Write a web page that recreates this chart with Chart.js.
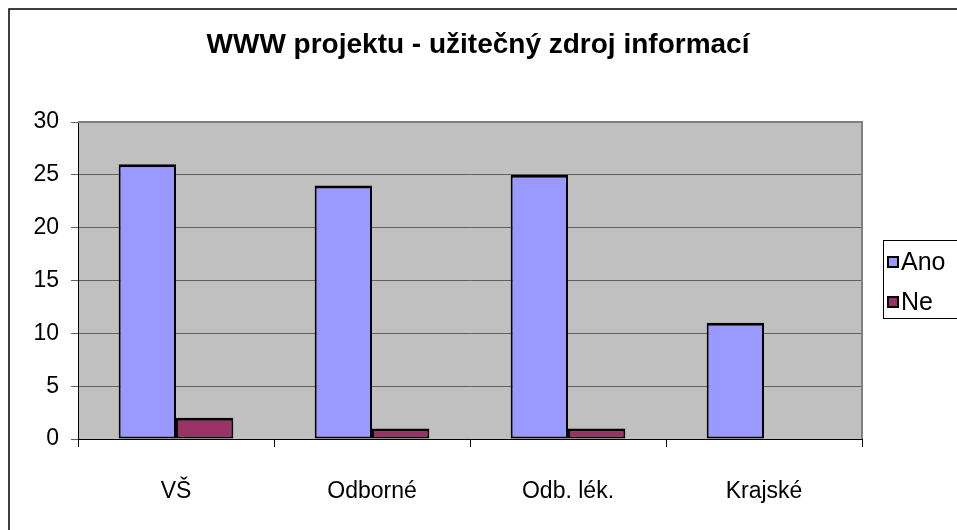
<!DOCTYPE html>
<html>
<head>
<meta charset="utf-8">
<script src="https://cdn.jsdelivr.net/npm/chart.js@4/dist/chart.umd.min.js"></script>
<style>
html,body{margin:0;padding:0;background:#fff;}
#wrap{width:957px;height:530px;position:relative;}
</style>
</head>
<body>
<div id="wrap"><canvas id="c" width="957" height="530"></canvas></div>
<script>
const categories = ["VŠ", "Odborné", "Odb. lék.", "Krajské"];
const anoValues = [26, 24, 25, 11];
const neValues = [2, 1, 1, 0];
const seriesNames = ["Ano", "Ne"];
const yTicks = [0, 5, 10, 15, 20, 25, 30];
const chartTitle = "WWW projektu - užitečný zdroj informací";

const FONT = "'Liberation Sans', Arial, sans-serif";

const decor = {
  id: 'decor',
  beforeDraw(chart) {
    const {ctx, chartArea: a} = chart;
    ctx.save();
    ctx.fillStyle = '#ffffff';
    ctx.fillRect(0, 0, chart.width, chart.height);
    ctx.strokeStyle = '#000';
    ctx.lineWidth = 1.5;
    ctx.strokeRect(9, 9, 1200, 1200);
    ctx.fillStyle = '#C0C0C0';
    ctx.fillRect(a.left, a.top, a.right - a.left, a.bottom - a.top);
    ctx.restore();
  },
  afterDraw(chart) {
    const {ctx, chartArea: a} = chart;
    ctx.save();
    ctx.strokeStyle = '#808080';
    ctx.lineWidth = 2;
    ctx.beginPath();
    ctx.moveTo(a.left, a.top);
    ctx.lineTo(a.right, a.top);
    ctx.lineTo(a.right, a.bottom);
    ctx.stroke();
    ctx.fillStyle = '#000';
    ctx.font = "bold 28px " + FONT;
    ctx.textAlign = 'center';
    ctx.textBaseline = 'middle';
    ctx.fillText(chartTitle, 478, 45);
    ctx.strokeStyle = '#000';
    ctx.lineWidth = 1;
    ctx.strokeRect(883.5, 240.5, 100, 78);
    ctx.font = "25px " + FONT;
    ctx.textAlign = 'left';
    const ys = [262, 302];
    chart.data.datasets.forEach((ds, i) => {
      ctx.fillStyle = ds.backgroundColor;
      ctx.fillRect(888, ys[i] - 5, 10, 10);
      ctx.lineWidth = 2;
      ctx.strokeRect(888, ys[i] - 5, 10, 10);
      ctx.fillStyle = '#000';
      ctx.fillText(ds.label, 901, ys[i] + 1);
    });
    ctx.restore();
  }
};

const bw = (ctx) => (ctx.raw === 0 ? 0 : {top: 3, left: 2, right: 2, bottom: 2});

new Chart(document.getElementById('c'), {
  type: 'bar',
  data: {
    labels: categories,
    datasets: [
      {label: seriesNames[0], data: anoValues, backgroundColor: '#9999FF', borderColor: '#000', borderWidth: bw, borderSkipped: false},
      {label: seriesNames[1], data: neValues, backgroundColor: '#993366', borderColor: '#000', borderWidth: bw, borderSkipped: false}
    ]
  },
  plugins: [decor],
  options: {
    responsive: false,
    animation: false,
    devicePixelRatio: 1,
    layout: {padding: {left: 0, right: 95, top: 122, bottom: 0}},
    plugins: {legend: {display: false}, title: {display: false}, tooltip: {enabled: false}},
    datasets: {bar: {categoryPercentage: 0.585, barPercentage: 1.0}},
    scales: {
      x: {
        afterFit(s) { s.height = 91; },
        grid: {offset: true, drawOnChartArea: false, drawTicks: true, tickLength: 8, color: '#000', lineWidth: 1},
        border: {display: true, color: '#000', width: 1},
        ticks: {color: '#000', font: {family: FONT, size: 23}, padding: 31, maxRotation: 0}
      },
      y: {
        min: 0, max: 30,
        afterFit(s) { s.width = 78; },
        afterBuildTicks(s) { s.ticks = yTicks.map(v => ({value: v})); },
        grid: {color: '#606060', lineWidth: 1, tickLength: 7, tickColor: '#606060'},
        border: {display: true, color: '#000', width: 1},
        ticks: {color: '#000', font: {family: FONT, size: 23}, padding: 12}
      }
    }
  }
});
</script>
</body>
</html>
